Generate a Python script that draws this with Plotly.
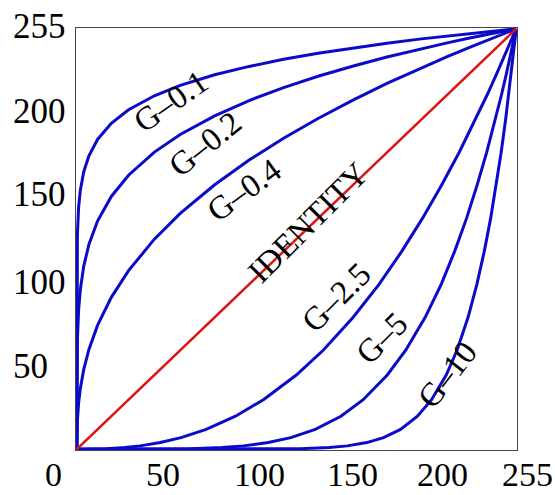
import plotly.graph_objects as go

# ---- data ----
x_samples = [0, 0.3, 1, 2, 4, 7, 12, 20, 30, 45, 60, 80, 100, 120, 140, 160,
             180, 200, 215, 228, 238, 245, 249, 252, 254, 255]
g01_y = [0, 129.9, 146.5, 157.0, 168.3, 178.0, 187.9, 197.7, 205.9, 214.4, 220.7,
         227.1, 232.2, 236.5, 240.2, 243.4, 246.3, 248.9, 250.7, 252.2, 253.2,
         254.0, 254.4, 254.7, 254.9, 255]
g02_y = [0, 66.2, 84.2, 96.7, 111.1, 124.2, 138.4, 153.3, 166.2, 180.2, 190.9,
         202.2, 211.5, 219.3, 226.2, 232.3, 237.9, 242.9, 246.5, 249.4, 251.5,
         253.0, 253.8, 254.4, 254.8, 255]
g04_y = [0, 17.2, 27.8, 36.7, 48.4, 60.5, 75.1, 92.1, 108.3, 127.4, 143.0, 160.4,
         175.4, 188.6, 200.6, 211.6, 221.9, 231.4, 238.2, 243.8, 248.1, 250.9,
         252.6, 253.8, 254.6, 255]

g25_x = [0, 17.2, 27.8, 36.7, 48.4, 60.5, 75.1, 92.1, 108.3, 127.4, 143.0, 160.4,
         175.4, 188.6, 200.6, 211.6, 221.9, 231.4, 238.2, 243.8, 248.1, 250.9,
         252.6, 253.8, 254.6, 255]
g5_x = [0, 66.2, 84.2, 96.7, 111.1, 124.2, 138.4, 153.3, 166.2, 180.2, 190.9,
        202.2, 211.5, 219.3, 226.2, 232.3, 237.9, 242.9, 246.5, 249.4, 251.5,
        253.0, 253.8, 254.4, 254.8, 255]
g10_x = [0, 129.9, 146.5, 157.0, 168.3, 178.0, 187.9, 197.7, 205.9, 214.4, 220.7,
         227.1, 232.2, 236.5, 240.2, 243.4, 246.3, 248.9, 250.7, 252.2, 253.2,
         254.0, 254.4, 254.7, 254.9, 255]
high_y = [0, 0.3, 1, 2, 4, 7, 12, 20, 30, 45, 60, 80, 100, 120, 140, 160,
          180, 200, 215, 228, 238, 245, 249, 252, 254, 255]

identity_x = [0, 255]
identity_y = [0, 255]

curve_labels = ["G–0.1", "G–0.2", "G–0.4", "IDENTITY", "G–2.5", "G–5", "G–10"]
x_tick_labels = ["0", "50", "100", "150", "200", "255"]
y_tick_labels = ["255", "200", "150", "100", "50"]

# ---- layout constants ----
BLUE = "#0a0ac8"
RED = "#dc1414"
FONT = "Liberation Serif, Times New Roman, serif"

fig = go.Figure()
blue_series = [(x_samples, g01_y), (x_samples, g02_y), (x_samples, g04_y),
               (g25_x, high_y), (g5_x, high_y), (g10_x, high_y)]
for xs, ys in blue_series:
    fig.add_trace(go.Scatter(x=xs, y=ys, mode="lines",
                             line=dict(color=BLUE, width=3), showlegend=False,
                             hoverinfo="skip"))
fig.add_trace(go.Scatter(x=identity_x, y=identity_y, mode="lines",
                         line=dict(color=RED, width=2.5), showlegend=False,
                         hoverinfo="skip"))

# curve labels: (x, y, angle)
label_pos = [(54.9, 211.2, -35), (74.4, 185.4, -39), (97.0, 157.5, -36),
             (133.9, 137.5, -45), (150.7, 92.6, -45), (177.1, 67.7, -45),
             (214.9, 45.0, -52)]
annotations = []
for text, (lx, ly, ang) in zip(curve_labels, label_pos):
    annotations.append(dict(x=lx, y=ly, xref="x", yref="y", text=text,
                            showarrow=False, textangle=ang,
                            font=dict(family=FONT, size=33, color="black"),
                            xanchor="center", yanchor="middle"))

x_tick_pos = [-0.0499, 0.1984, 0.4172, 0.627, 0.831, 1.0249]
for text, px in zip(x_tick_labels, x_tick_pos):
    annotations.append(dict(x=px, y=-0.0592, xref="paper", yref="paper", text=text,
                            showarrow=False, xanchor="center", yanchor="middle",
                            font=dict(family=FONT, size=34, color="black")))
y_tick_pos = [1.0047, 0.8021, 0.6043, 0.3981, 0.1979]
for text, py in zip(y_tick_labels, y_tick_pos):
    annotations.append(dict(x=-0.1474, y=py, xref="paper", yref="paper", text=text,
                            showarrow=False, xanchor="left", yanchor="middle",
                            font=dict(family=FONT, size=35, color="black")))

axis_style = dict(range=[-0.5, 255.5], showgrid=False, zeroline=False,
                  showticklabels=False, ticks="", showline=True, mirror=True,
                  linecolor="#444444", linewidth=1)
fig.update_layout(
    width=555, height=495,
    margin=dict(l=76, r=38, t=28, b=45),
    paper_bgcolor="white", plot_bgcolor="white",
    xaxis=axis_style, yaxis=axis_style,
    annotations=annotations,
)
fig.write_html("out.html", config={"displayModeBar": False},
               post_script="document.body.style.margin='0';document.body.style.padding='0';")
